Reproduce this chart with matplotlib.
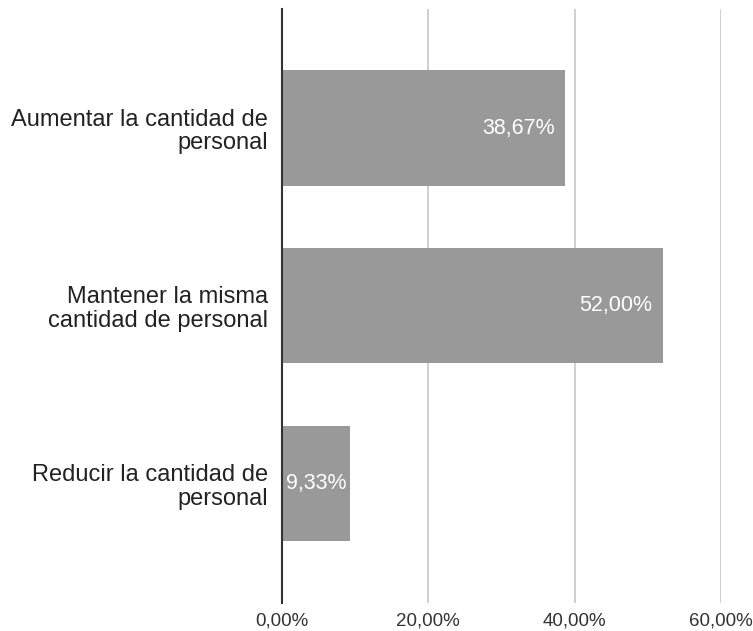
import matplotlib.pyplot as plt
from matplotlib.ticker import FuncFormatter

plt.rcParams['font.family'] = ['Liberation Sans', 'DejaVu Sans']

categorias = ['Aumentar la cantidad de\npersonal',
              'Mantener la misma\ncantidad de personal',
              'Reducir la cantidad de\npersonal']
valores = [0.3867, 0.52, 0.0933]
etiquetas = ['38,67%', '52,00%', '9,33%']
ticks_x = [0.0, 0.2, 0.4, 0.6]

fig = plt.figure(figsize=(7.53, 6.31), dpi=100)
ax = fig.add_axes([0.374, 0.0444, 0.584, 0.9416])

pos = list(range(len(categorias)))
ax.barh(pos, valores, height=0.647, color='#999999', zorder=3)

# etiquetas de valor dentro de las barras
for p, v, t in zip(pos, valores, etiquetas):
    if v < 0.15:
        ax.annotate(t, (v / 2, p), ha='center', va='center', color='white', fontsize=15.5, zorder=4)
    else:
        ax.annotate(t, (v, p), xytext=(-7.5, 0), textcoords='offset points',
                    ha='right', va='center', color='white', fontsize=15.5, zorder=4)

ax.set_xlim(0, 0.6)
ax.set_ylim(2.67, -0.67)
ax.set_xticks(ticks_x)
ax.xaxis.set_major_formatter(FuncFormatter(lambda x, _: f'{x*100:.2f}%'.replace('.', ',')))
ax.set_yticks(pos)
ax.set_yticklabels(categorias, fontsize=17, color='#222222', linespacing=1.08, multialignment='right')

ax.tick_params(axis='x', length=0, pad=7, labelsize=13.5, labelcolor='#333333')
ax.tick_params(axis='y', length=0, pad=10)
ax.grid(axis='x', color='#cccccc', linewidth=1.3, zorder=0)

for s in ['top', 'right', 'bottom']:
    ax.spines[s].set_visible(False)
ax.spines['left'].set_color('#333333')
ax.spines['left'].set_linewidth(1.5)
ax.spines['left'].set_zorder(5)

fig.savefig('out.png', dpi=100)
